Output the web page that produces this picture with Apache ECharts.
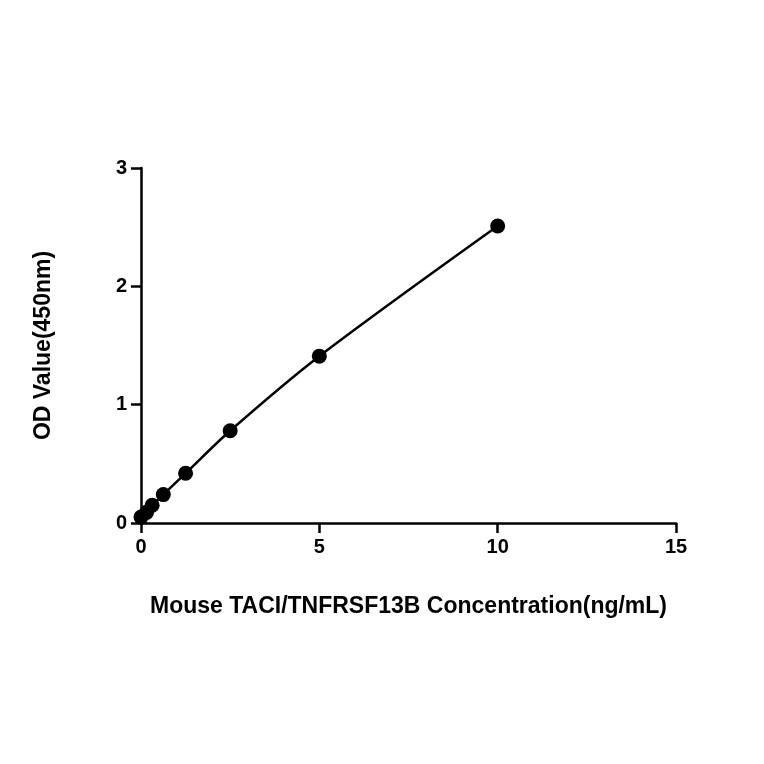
<!DOCTYPE html>
<html><head><meta charset="utf-8">
<script src="https://cdn.jsdelivr.net/npm/echarts@6/dist/echarts.min.js"></script>
<style>html,body{margin:0;background:#fff}#c{width:764px;height:764px}</style>
</head><body><div id="c"></div>
<script>
const concentrations = [0, 0.156, 0.3125, 0.625, 1.25, 2.5, 5, 10];
const odValues = [0.05, 0.09, 0.15, 0.24, 0.42, 0.78, 1.41, 2.51];
const xTicks = [0, 5, 10, 15];
const yTicks = [0, 1, 2, 3];
const pts = concentrations.map((c, i) => [c, odValues[i]]);
const ax = {
  axisLine:{show:true,lineStyle:{color:'#000',width:2.5}},
  axisTick:{show:true,length:10,lineStyle:{color:'#000',width:2.5}},
  axisLabel:{color:'#000',fontSize:20,fontWeight:'bold',fontFamily:'Liberation Sans, Arial',margin:14},
  splitLine:{show:false},
  nameTextStyle:{color:'#000',fontSize:23,fontWeight:'bold',fontFamily:'Liberation Sans, Arial'}
};
const chart = echarts.init(document.getElementById('c'));
chart.setOption({
  animation:false,
  grid:{left:141,right:88,top:168,bottom:241},
  xAxis:Object.assign({type:'value',min:0,max:15,interval:5,name:'Mouse TACI/TNFRSF13B Concentration(ng/mL)',nameLocation:'middle',nameGap:72},ax),
  yAxis:Object.assign({type:'value',min:0,max:3,interval:1,name:'OD Value(450nm)',nameLocation:'middle',nameGap:86},ax),
  series:[
    {type:'line',data:pts,smooth:0.3,symbol:'none',lineStyle:{color:'#000',width:2.5},z:1},
    {type:'scatter',data:pts,symbolSize:15,itemStyle:{color:'#000',opacity:1},z:2}
  ]
});
</script></body></html>
